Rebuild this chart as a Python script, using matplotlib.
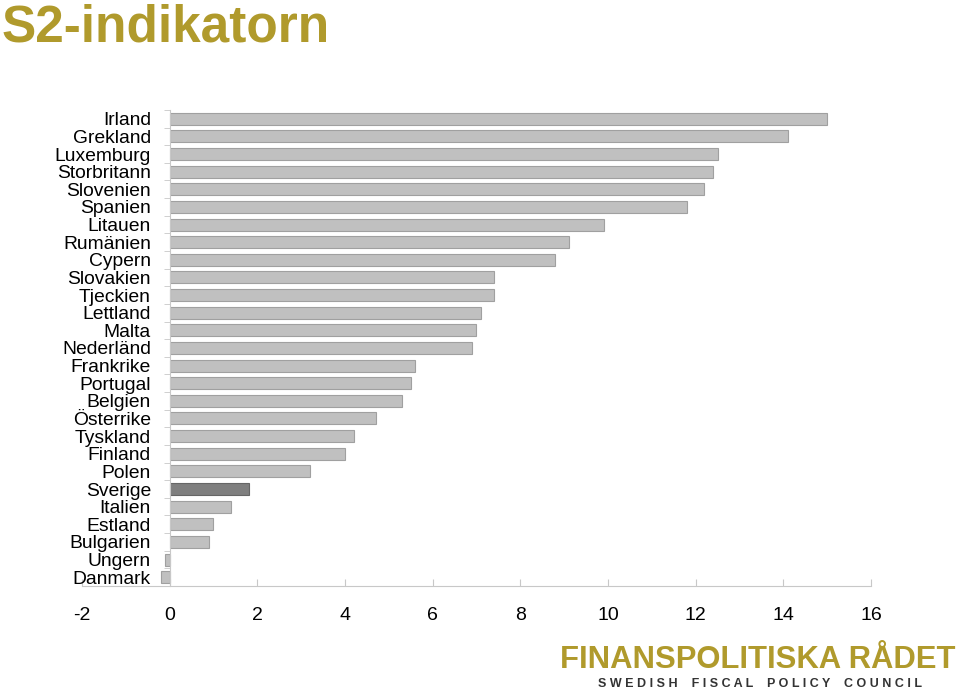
import numpy as np
import matplotlib
matplotlib.use("Agg")
import matplotlib.pyplot as plt

plt.rcParams["font.family"] = ["Liberation Sans", "DejaVu Sans"]

countries = [
    "Irland", "Grekland", "Luxemburg", "Storbritann", "Slovenien", "Spanien",
    "Litauen", "Rumänien", "Cypern", "Slovakien", "Tjeckien", "Lettland",
    "Malta", "Nederländ", "Frankrike", "Portugal", "Belgien", "Österrike",
    "Tyskland", "Finland", "Polen", "Sverige", "Italien", "Estland",
    "Bulgarien", "Ungern", "Danmark",
]
s2_values = [
    15.0, 14.1, 12.5, 12.4, 12.2, 11.8, 9.9, 9.1, 8.8, 7.4, 7.4, 7.1,
    7.0, 6.9, 5.6, 5.5, 5.3, 4.7, 4.2, 4.0, 3.2, 1.8, 1.4, 1.0,
    0.9, -0.1, -0.2,
]
highlight = "Sverige"
x_ticks = [-2, 0, 2, 4, 6, 8, 10, 12, 14, 16]

GOLD = "#b09a2c"

fig = plt.figure(figsize=(9.6, 6.88), dpi=100)
ax = fig.add_axes([0.0854, 0.1483, 0.8219, 0.6919])

# move the y spine to x=0 first (this resets the tick objects)
for side in ["top", "right"]:
    ax.spines[side].set_visible(False)
ax.spines["left"].set_position(("data", 0))
ax.spines["left"].set_color("#c8c8c8")
ax.spines["bottom"].set_color("#c8c8c8")

n = len(countries)
ypos = np.arange(n)
colors = ["#7f7f7f" if c == highlight else "#c0c0c0" for c in countries]
edges = ["#666666" if c == highlight else "#a0a0a0" for c in countries]
ax.barh(ypos, s2_values, height=0.68, color=colors, edgecolor=edges, linewidth=0.8)

ax.set_xlim(-2, 16)
ax.set_ylim(n - 0.5, -0.5)
ax.set_xticks(x_ticks)
ax.set_xticklabels([str(t) for t in x_ticks])
ax.set_yticks(ypos)
ax.set_yticklabels(countries)
ax.set_yticks(np.arange(n + 1) - 0.5, minor=True)

ax.tick_params(axis="y", which="major", length=0, pad=13.5, labelsize=13.9)
ax.tick_params(axis="y", which="minor", length=4, color="#c8c8c8", direction="out")
ax.tick_params(axis="x", length=5, color="#c8c8c8", direction="in", pad=15, labelsize=14)

fig.text(0.002, 0.995, "S2-indikatorn", fontsize=37, fontweight="bold",
         color=GOLD, ha="left", va="top")

fig.text(0.9948, 0.029, "FINANSPOLITISKA RÅDET", fontsize=22.3, fontweight="bold",
         color=GOLD, ha="right", va="baseline")
sub = "    ".join(" ".join(w) for w in "SWEDISH FISCAL POLICY COUNCIL".split())
fig.text(0.7917, 0.002, sub, fontsize=9, fontweight="bold",
         color="#333333", ha="center", va="baseline")

fig.savefig("out.png", dpi=100)
